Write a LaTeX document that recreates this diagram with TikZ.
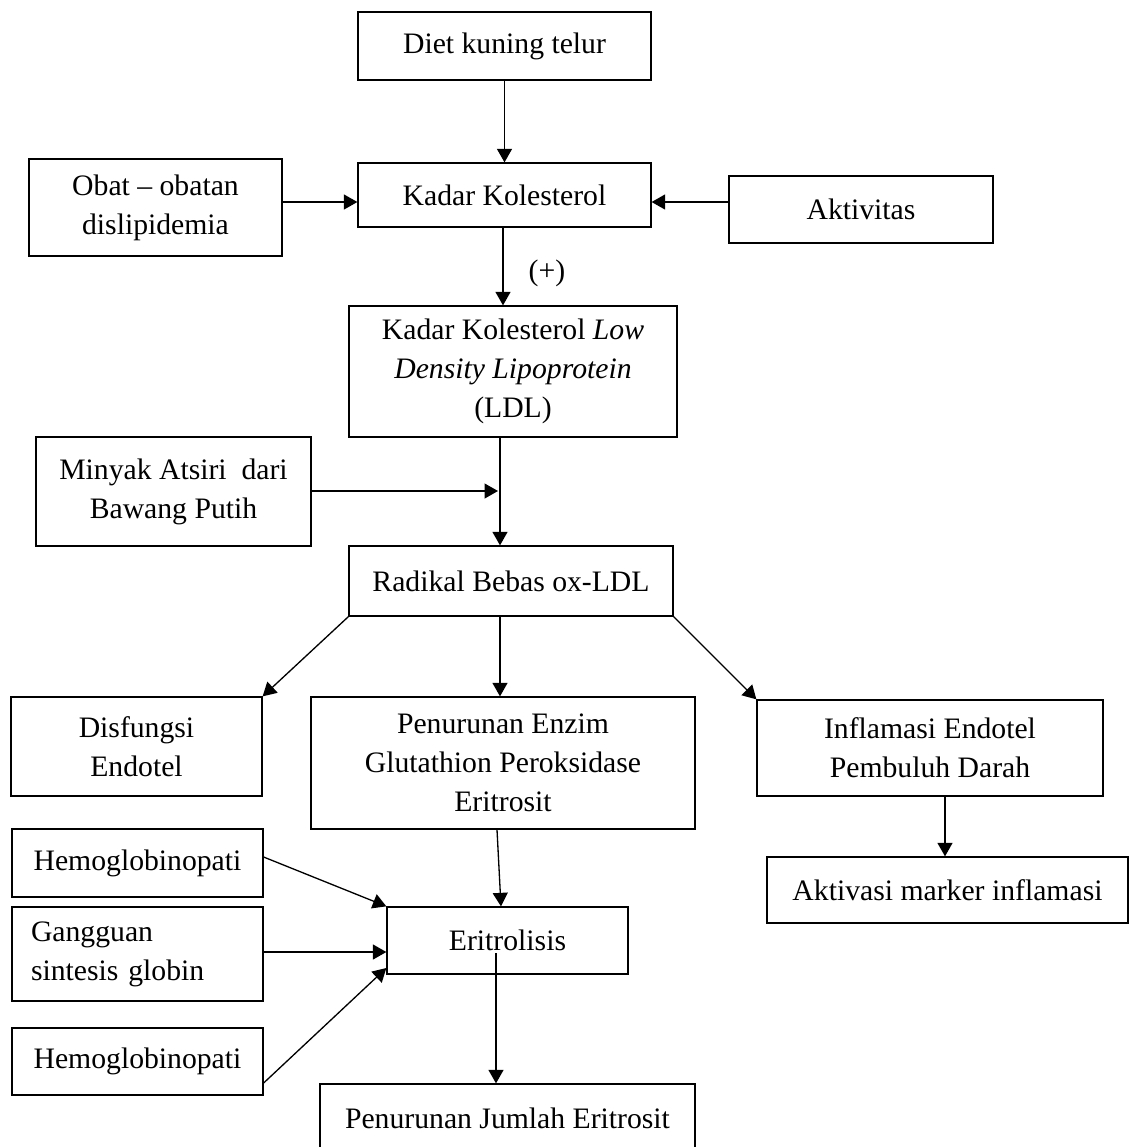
\documentclass[tikz,border=0pt]{standalone}
\usepackage{fontspec}
\setmainfont{Liberation Serif}
\usetikzlibrary{arrows.meta}

\begin{document}
\begin{tikzpicture}[x=0.02cm,y=-0.02cm,
        box/.style={draw,line width=0.75pt,inner sep=0pt,align=center,
            font=\fontsize{16.9}{22.2}\selectfont},
        sz/.style 2 args={minimum width=#1cm,minimum height=#2cm},
        arr/.style={line width=0.75pt,-{Triangle[length=0.27cm,width=0.3cm]}}]
        \useasboundingbox (0,0) rectangle (1131,1147);
        \clip (0,0) rectangle (1131,1147);

        \node[box,sz={5.86}{1.36}] (diet) at (504.5,46) {Diet kuning telur};
        \node[box,sz={5.06}{1.94}] (obat) at (155.5,207.5) {Obat -- obatan\\dislipidemia};
        \node[box,sz={5.86}{1.28}] (kol) at (504.5,195) {Kadar Kolesterol};
        \node[box,sz={5.28}{1.34}] (akt) at (861,209.5) {Aktivitas};
        \node[box,sz={6.56}{2.62}] (ldl) at (513,371.5) {Kadar Kolesterol \textit{Low}\\\textit{Density Lipoprotein}\\(LDL)};
        \node[box,sz={5.50}{2.18}] (minyak) at (173.5,491.5) {Minyak Atsiri\ \ dari\\Bawang Putih};
        \node[box,sz={6.48}{1.40}] (rad) at (511,581) {Radikal Bebas ox-LDL};
        \node[box,sz={5.02}{1.98}] (disf) at (136.5,746.5) {Disfungsi\\Endotel};
        \node[box,sz={7.68}{2.64}] (enzim) at (503,763) {Penurunan Enzim\\Glutathion Peroksidase\\Eritrosit};
        \node[box,sz={6.92}{1.92}] (infl) at (930,748) {Inflamasi Endotel\\Pembuluh Darah};
        \node[box,sz={7.22}{1.32}] (akv) at (947.5,890) {Aktivasi marker inflamasi};
        \node[box,sz={5.02}{1.36}] (hemoa) at (137.5,863) {Hemoglobinopati};
        \node[box,sz={5.02}{1.88},align=left,text width=4.26cm,inner xsep=0.38cm] (gang) at (137.5,954) {Gangguan\\sintesis globin};
        \node[box,sz={5.02}{1.34}] (hemob) at (137.5,1061.5) {Hemoglobinopati};
        \node[box,sz={4.82}{1.34}] (erit) at (507.5,940.5) {Eritrolisis};
        \node[box,sz={7.50}{1.36}] (jml) at (507.5,1118) {Penurunan Jumlah Eritrosit};

        \node[font=\fontsize{16.9}{22.2}\selectfont] (plus) at (547,273) {(+)};
        \coordinate (eritout) at (496,953);

        \draw[arr] (diet) -- (kol);
        \draw[arr] (obat.east |- 0,202) -- (kol.west |- 0,202);
        \draw[arr] (akt.west |- 0,202) -- (kol.east |- 0,202);
        \draw[arr] (kol.south -| 503,0) -- (ldl.north -| 503,0);
        \draw[arr] (ldl.south -| 500,0) -- (rad.north -| 500,0);
        \draw[arr] (minyak.east |- 0,491) -- (498,491);
        \draw[arr] (rad.south west) -- (disf.north east);
        \draw[arr] (rad.south -| 500,0) -- (enzim.north -| 500,0);
        \draw[arr] (rad.south east) -- (infl.north west);
        \draw[arr] (infl.south -| 945,0) -- (akv.north -| 945,0);
        \draw[arr] (enzim.south -| 497,0) -- (erit.north -| 501,0);
        \draw[arr] (hemoa.east |- 0,857) -- (erit.north west);
        \draw[arr] (gang.east |- 0,952) -- (erit.west |- 0,952);
        \draw[arr] (hemob.east |- 0,1083) -- (erit.west |- 0,968);
        \draw[arr] (eritout) -- (eritout |- jml.north);
    \end{tikzpicture}
\end{document}
